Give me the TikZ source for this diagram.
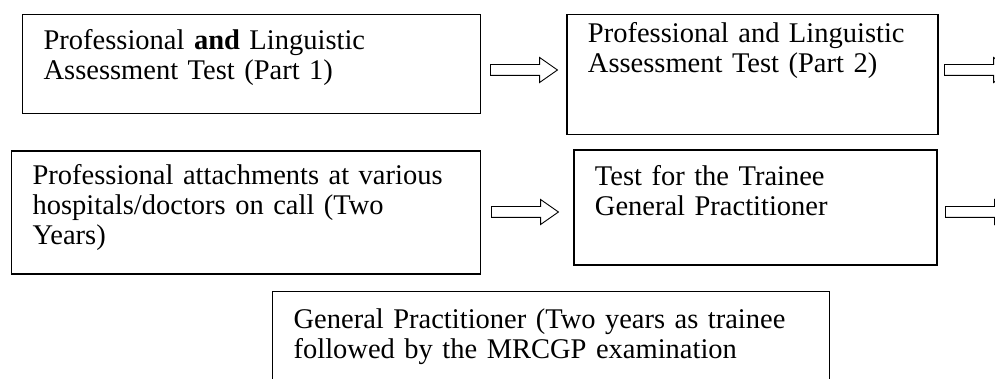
\documentclass[tikz,border=0pt]{standalone}
\usepackage{fontspec}
\setmainfont{Liberation Serif}
\usetikzlibrary{shapes.arrows, positioning}

\begin{document}
\begin{tikzpicture}[x=1pt, y=-1pt,
	stepbox/.style={rectangle, draw, line width=1.3pt, anchor=north west, inner xsep=21pt, inner ysep=0pt, align=left, font=\fontsize{28.5}{30}\selectfont},
	flowarrow/.style={single arrow, draw, line width=0.9pt, minimum height=67pt, minimum width=24pt, inner sep=5pt, single arrow tip angle=70, single arrow head extend=7pt, anchor=tail}
	]
	\useasboundingbox (0,0) rectangle (995,379);
	\clip (0,0) rectangle (995,379);

	\node[stepbox, text width=416pt, text height=35pt, text depth=64pt] (part1) at (22,14) {Professional \textbf{and} Linguistic\\ Assessment Test (Part 1)};
	\node[stepbox, text width=329pt, text height=28pt, text depth=92pt, right=85pt of part1.north east, anchor=north west] (part2) {Professional and Linguistic\\ Assessment Test (Part 2)};
	\node[stepbox, text width=427pt, text height=34pt, text depth=89pt, below=36pt of part1.south west, anchor=north west, xshift=-11pt] (attach) {Professional attachments at various\\ hospitals/doctors on call (Two\\ Years)};
	\node[stepbox, text width=321pt, text height=36pt, text depth=79pt, below=14pt of part2.south west, anchor=north west, xshift=7pt] (trainee) {Test for the Trainee\\ General Practitioner};
	\node[stepbox, text width=515pt, text height=37pt, text depth=120pt] (gp) at (272,291) {General Practitioner (Two years as trainee\\ followed by the MRCGP examination};

	% flow between the steps
	\node[flowarrow] (arr1) at (490,70) {};
	\node[flowarrow] (arr2) at (944,70) {};
	\node[flowarrow] (arr3) at (491,212) {};
	\node[flowarrow] (arr4) at (945,212) {};
\end{tikzpicture}
\end{document}
